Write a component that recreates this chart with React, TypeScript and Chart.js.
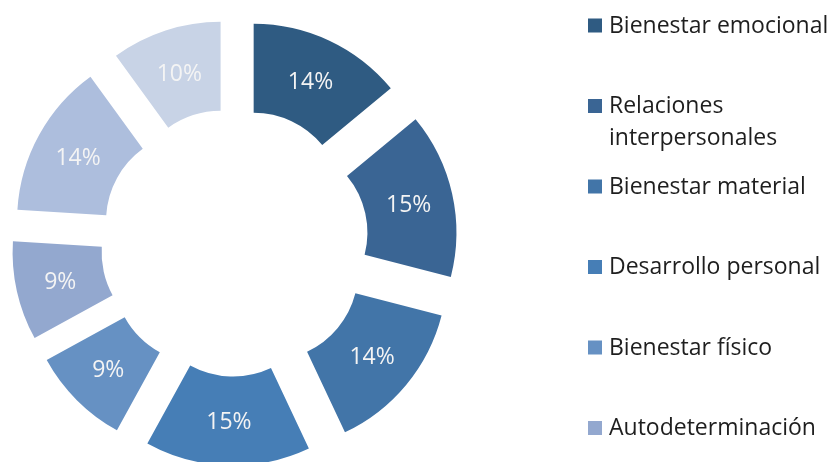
import React, { useEffect, useRef } from "react";
import { Chart, registerables } from "chart.js";

Chart.register(...registerables);

const categories = [
  "Bienestar emocional",
  "Relaciones interpersonales",
  "Bienestar material",
  "Desarrollo personal",
  "Bienestar físico",
  "Autodeterminación",
  "Inclusión social",
  "Derechos",
];
const values = [14, 15, 14, 15, 9, 9, 14, 10];
const colors = [
  "#2F5B82",
  "#3A6594",
  "#4275A8",
  "#467EB6",
  "#6691C3",
  "#93A8CF",
  "#ADBEDD",
  "#C8D3E6",
];

const W = 832;
const H = 462;
const EXPLODE = 45;
const FONT = "23px 'Open Sans'";
const LEGEND_X = 588;
const LEGEND_TEXT_X = 609;
const LEGEND_FIRST_BASELINE = 32.5;
const LEGEND_STEP = 80.5;
const LEGEND_LINE = 32;
const LEGEND_MAX_W = 228;

function wrap(ctx: CanvasRenderingContext2D, text: string, maxW: number): string[] {
  const words = text.split(" ");
  const lines: string[] = [];
  let cur = "";
  for (const w of words) {
    const test = cur ? cur + " " + w : w;
    if (cur && ctx.measureText(test).width > maxW) {
      lines.push(cur);
      cur = w;
    } else {
      cur = test;
    }
  }
  if (cur) lines.push(cur);
  return lines;
}

const explodePlugin = {
  id: "explodeAndLabels",
  beforeDatasetDraw(chart: any, args: any) {
    const ctx: CanvasRenderingContext2D = chart.ctx;
    const meta = args.meta;
    meta.data.forEach((arc: any) => {
      const mid = (arc.startAngle + arc.endAngle) / 2;
      ctx.save();
      ctx.translate(Math.cos(mid) * EXPLODE, Math.sin(mid) * EXPLODE);
      arc.draw(ctx);
      ctx.restore();
    });
    ctx.save();
    ctx.font = FONT;
    ctx.fillStyle = "#F4F4F4";
    ctx.textAlign = "center";
    ctx.textBaseline = "alphabetic";
    meta.data.forEach((arc: any, i: number) => {
      const mid = (arc.startAngle + arc.endAngle) / 2;
      const rad = (arc.innerRadius + arc.outerRadius) / 2 + EXPLODE;
      const x = arc.x + Math.cos(mid) * rad;
      const y = arc.y + Math.sin(mid) * rad;
      ctx.fillText(chart.data.datasets[0].data[i] + "%", x, y + 8);
    });
    ctx.restore();
    return false;
  },
  afterDraw(chart: any) {
    const ctx: CanvasRenderingContext2D = chart.ctx;
    ctx.save();
    ctx.font = FONT;
    ctx.textAlign = "left";
    ctx.textBaseline = "alphabetic";
    const labels: string[] = chart.data.labels;
    const bg: string[] = chart.data.datasets[0].backgroundColor;
    labels.forEach((label, i) => {
      const base = LEGEND_FIRST_BASELINE + i * LEGEND_STEP;
      ctx.fillStyle = bg[i];
      ctx.fillRect(LEGEND_X, base - 14, 14, 14);
      ctx.fillStyle = "#1E1E1E";
      const lines = wrap(ctx, label, LEGEND_MAX_W);
      lines.forEach((ln, j) => {
        ctx.fillText(ln, LEGEND_TEXT_X, base + j * LEGEND_LINE);
      });
    });
    ctx.restore();
  },
};

export default function App() {
  const ref = useRef<HTMLCanvasElement | null>(null);
  useEffect(() => {
    if (!ref.current) return;
    const chart = new Chart(ref.current, {
      type: "doughnut",
      data: {
        labels: categories,
        datasets: [
          {
            data: values,
            backgroundColor: colors,
            borderWidth: 0,
          },
        ],
      },
      options: {
        responsive: false,
        animation: false,
        devicePixelRatio: 1,
        radius: 178,
        cutout: "50%",
        events: [],
        layout: { padding: { left: 0, top: 23, right: 363, bottom: 0 } },
        plugins: {
          legend: { display: false },
          tooltip: { enabled: false },
        },
      } as any,
      plugins: [explodePlugin as any],
    });
    return () => chart.destroy();
  }, []);
  return (
    <div
      style={{
        position: "fixed",
        left: 0,
        top: 0,
        width: W,
        height: H,
        overflow: "hidden",
        background: "#ffffff",
      }}
    >
      <canvas ref={ref} width={W} height={H} style={{ display: "block" }} />
    </div>
  );
}
